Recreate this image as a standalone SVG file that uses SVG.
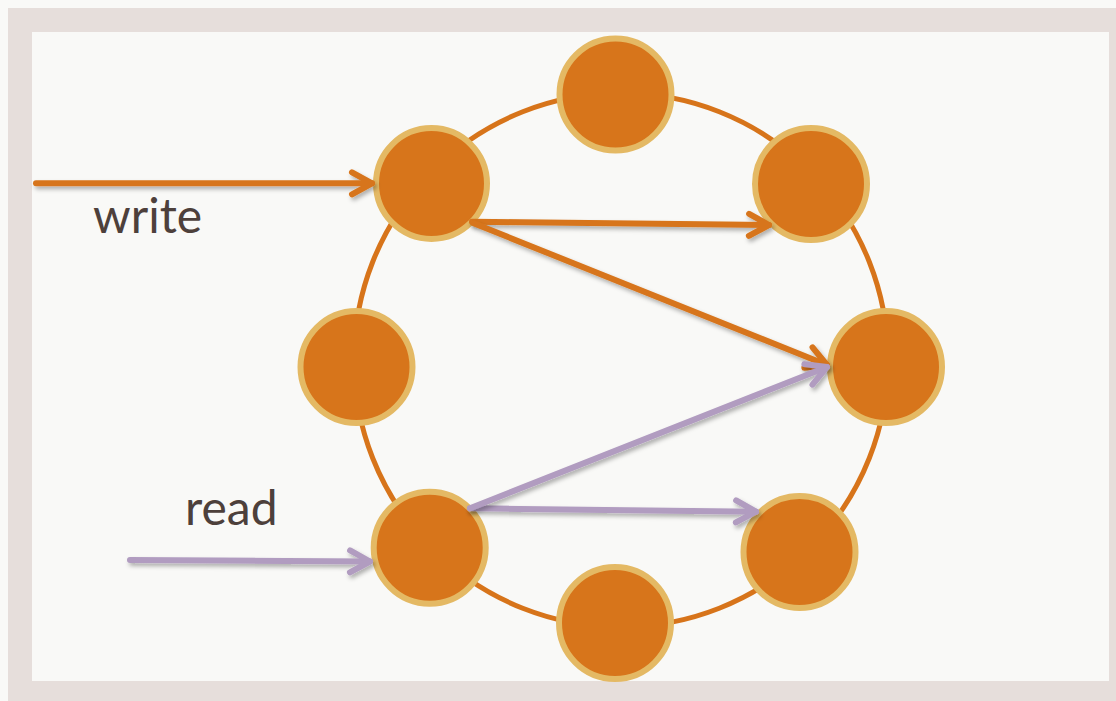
<svg xmlns="http://www.w3.org/2000/svg" width="1116" height="701" viewBox="0 0 1116 701">
  <style>
    .node circle { fill: #d7751b; stroke: #e4b964; stroke-width: 6; }
    .ring { fill: none; stroke: #d7741a; stroke-width: 5; }
    .wire { fill: none; stroke-width: 6; stroke-linecap: round; filter: url(#shadow); }
    .write { stroke: #d7751b; marker-end: url(#headWrite); }
    .read { stroke: #b19cc0; marker-end: url(#headRead); }
    .label { font-family: Lato, "Liberation Sans", sans-serif; font-size: 48px; fill: #4d403b; }
  </style>
  <defs>
    <!-- shadow region in user space so straight horizontal lines are not culled -->
    <filter id="shadow" filterUnits="userSpaceOnUse" x="0" y="0" width="1116" height="701">
      <feDropShadow dx="2" dy="3" stdDeviation="2" flood-color="#000" flood-opacity="0.3"/>
    </filter>
    <marker id="headWrite" markerUnits="userSpaceOnUse" orient="auto" viewBox="-28 -16 34 32" markerWidth="34" markerHeight="32" refX="0" refY="0">
      <path d="M -20 -11 L 0 0 L -20 11" fill="none" stroke="#d7751b" stroke-width="6" stroke-linecap="round" stroke-linejoin="round"/>
    </marker>
    <marker id="headRead" markerUnits="userSpaceOnUse" orient="auto" viewBox="-28 -16 34 32" markerWidth="34" markerHeight="32" refX="0" refY="0">
      <path d="M -20 -11 L 0 0 L -20 11" fill="none" stroke="#b19cc0" stroke-width="6" stroke-linecap="round" stroke-linejoin="round"/>
    </marker>
  </defs>

  <!-- page and frame -->
  <rect x="0" y="0" width="1116" height="701" fill="#f9f9f7"/>
  <rect x="8" y="8" width="1108" height="693" fill="#e6dedb"/>
  <rect x="32" y="32" width="1077" height="649" fill="#f9f9f7"/>

  <!-- ring -->
  <circle class="ring" cx="621" cy="360" r="267"/>

  <!-- nodes -->
  <g id="node-top" class="node"><circle cx="615.5" cy="94.5" r="56"/></g>
  <g id="node-top-left" class="node"><circle cx="431.5" cy="183.5" r="55.5"/></g>
  <g id="node-top-right" class="node"><circle cx="811" cy="184" r="56"/></g>
  <g id="node-left" class="node"><circle cx="356.5" cy="367" r="56"/></g>
  <g id="node-right" class="node"><circle cx="886" cy="367" r="56"/></g>
  <g id="node-bottom-left" class="node"><circle cx="429.7" cy="547.8" r="56"/></g>
  <g id="node-bottom-right" class="node"><circle cx="799.5" cy="552" r="56"/></g>
  <g id="node-bottom" class="node"><circle cx="615" cy="623" r="56"/></g>

  <!-- connectors -->
  <g id="connectors">
    <path class="wire write" d="M 36 183.3 L 372 183.3"/>
    <path class="wire write" d="M 472 221.7 L 769 225"/>
    <path class="wire write" d="M 473 223 L 827 365"/>
    <path class="wire read" d="M 130 560 L 370 561.5"/>
    <path class="wire read" d="M 470 508.3 L 756 511.7"/>
    <path class="wire read" d="M 470 508.3 L 827 367"/>
  </g>

  <!-- labels -->
  <text class="label" x="93" y="233">write</text>
  <text class="label" x="185" y="525">read</text>
</svg>
